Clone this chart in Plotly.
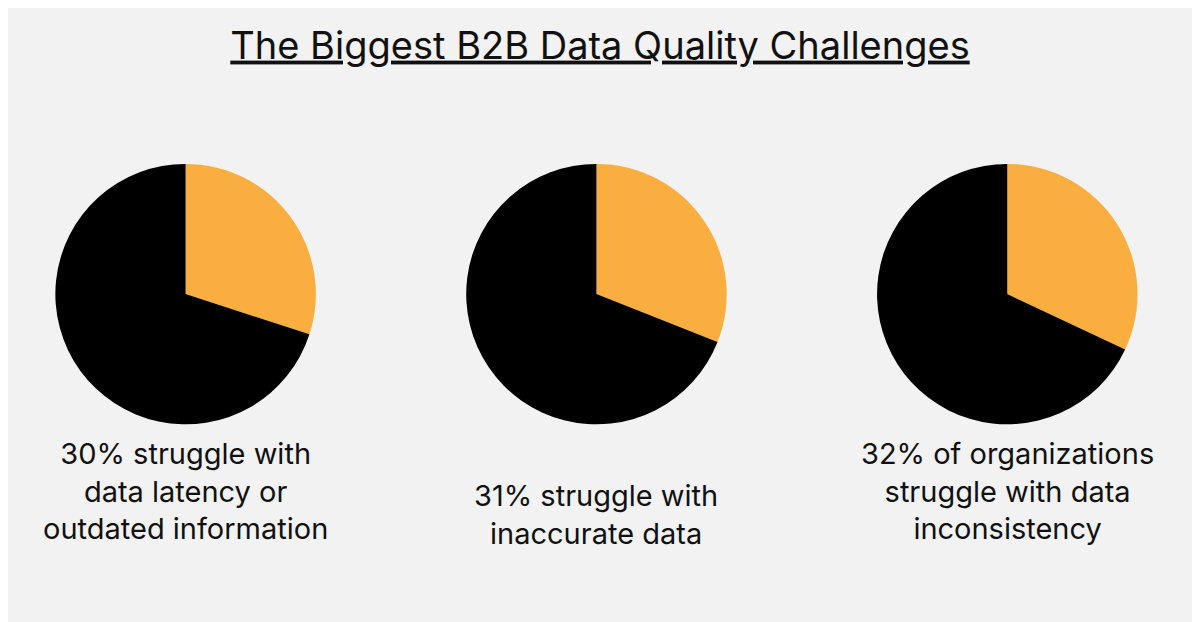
import plotly.graph_objects as go

labels = ["Struggle", "Other"]
shares = [[30, 70], [31, 69], [32, 68]]
captions = [
    "30% struggle with<br>data latency or<br>outdated information",
    "31% struggle with<br>inaccurate data",
    "32% of organizations<br>struggle with data<br>inconsistency",
]
centers = [0.15, 0.497, 0.844]

fig = go.Figure()
for i, vals in enumerate(shares):
    c = centers[i]
    fig.add_trace(go.Pie(
        labels=labels, values=vals, sort=False, direction="clockwise", rotation=0,
        marker=dict(colors=["#F9AE3F", "#000000"], line=dict(width=0)),
        textinfo="none", hoverinfo="label+percent", showlegend=False,
        domain=dict(x=[c - 0.11, c + 0.11], y=[0.33, 0.75]),
    ))
    fig.add_annotation(text=captions[i], x=c, y=0.315 if i != 1 else 0.248,
                       xref="paper", yref="paper", xanchor="center", yanchor="top",
                       showarrow=False, align="center",
                       font=dict(size=29, color="#111111", family="Inter"))

fig.update_layout(
    title=dict(text="<u>The Biggest B2B Data Quality Challenges</u>", x=0.5, y=0.94,
               xanchor="center", yanchor="middle",
               font=dict(size=38, color="#111111", family="Inter")),
    paper_bgcolor="#F2F2F2", plot_bgcolor="#F2F2F2",
    autosize=True, margin=dict(l=0, r=0, t=0, b=0),
)
fig.write_html("out.html", default_width="100%", default_height="100vh")
